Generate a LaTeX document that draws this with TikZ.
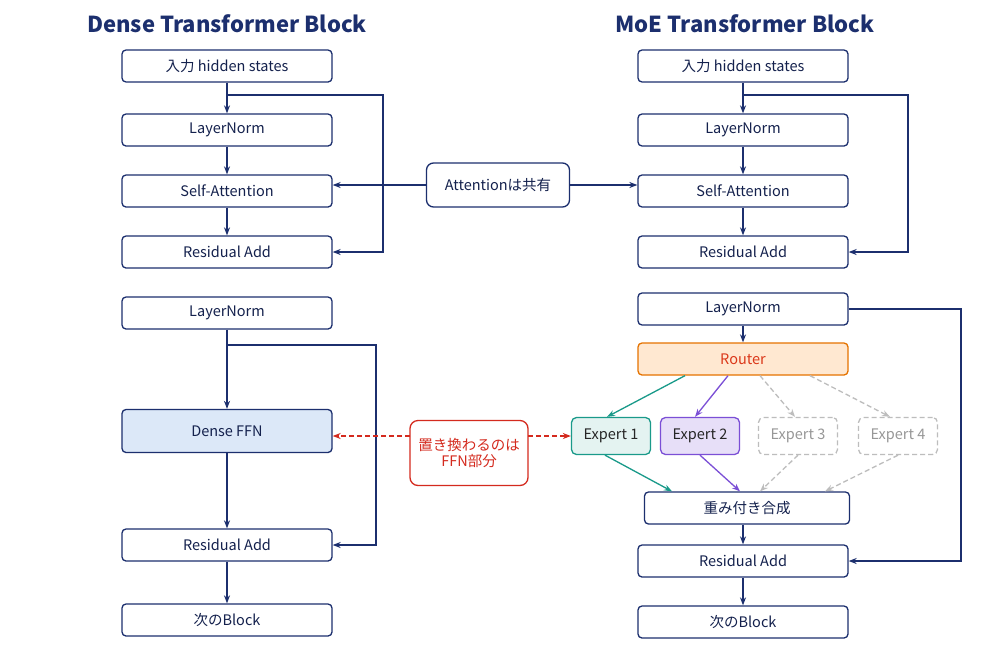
\documentclass[tikz,border=0pt]{standalone}
\usepackage{fontspec}
\setmainfont{Noto Sans CJK JP}
\usetikzlibrary{arrows.meta}
\definecolor{navy}{HTML}{1C2F6E}
\definecolor{teal2}{HTML}{1A9A8A}
\definecolor{purp}{HTML}{7B4FD6}
\definecolor{gry}{HTML}{BDBDBD}
\definecolor{redd}{HTML}{D42A1E}
\definecolor{lblue}{HTML}{DCE8F8}
\begin{document}
\begin{tikzpicture}[x=1pt,y=-1pt,
 box/.style={draw=navy,line width=1.3pt,rounded corners=4pt,fill=white,minimum height=32pt,font=\fontsize{14.5}{16}\selectfont,text=navy!70!black,inner sep=0pt},
 col/.style={box,minimum width=210pt},
 exp/.style={box,rounded corners=5pt,minimum width=79pt,minimum height=37pt,text=black!85},
 ar/.style={-{Stealth[length=8pt,width=6pt]},line width=1.3pt,draw=navy},
 gd/.style={-{Stealth[length=8pt,width=6pt]},line width=1.3pt,draw=gry,dash pattern=on 5pt off 3pt}]
\useasboundingbox (0,0) rectangle (1000,667);
\fill[white] (0,0) rectangle (1000,667);
\node[font=\fontsize{22}{24}\selectfont\bfseries,text=navy] (t1) at (227,24) {Dense Transformer Block};
\node[font=\fontsize{22}{24}\selectfont\bfseries,text=navy] (t2) at (745,24) {MoE Transformer Block};
% left
\node[col] (a1) at (227,66) {入力 hidden states};
\node[col] (a2) at (227,130) {LayerNorm};
\node[col] (a3) at (227,191) {Self-Attention};
\node[col] (a4) at (227,252) {Residual Add};
\node[col] (a5) at (227,313) {LayerNorm};
\node[col,fill=lblue,minimum height=43pt] (a6) at (227,431) {Dense FFN};
\node[col] (a7) at (227,545) {Residual Add};
\node[col] (a8) at (227,620) {次のBlock};
\foreach \p/\q in {a1/a2,a2/a3,a3/a4,a5/a6,a6/a7,a7/a8} \draw[ar] (\p) -- (\q);
\coordinate (s1) at (227,95); \coordinate (s2) at (227,345);
\draw[ar] (s1) -| (383,252) -- (a4.east);
\draw[ar] (s2) -| (376,545) -- (a7.east);
% right
\node[col] (b1) at (743,66) {入力 hidden states};
\node[col] (b2) at (743,130) {LayerNorm};
\node[col] (b3) at (743,191) {Self-Attention};
\node[col] (b4) at (743,252) {Residual Add};
\node[col] (b5) at (743,309) {LayerNorm};
\node[col,draw=orange!90!black,fill=orange!18,text=redd!85!orange] (r) at (743,359) {Router};
\node[exp,draw=teal2,fill=teal2!12] (e1) at (611,436) {Expert 1};
\node[exp,draw=purp,fill=purp!18] (e2) at (700,436) {Expert 2};
\node[exp,draw=gry,text=gry!80!black,dash pattern=on 5pt off 3pt] (e3) at (798,436) {Expert 3};
\node[exp,draw=gry,text=gry!80!black,dash pattern=on 5pt off 3pt] (e4) at (898,436) {Expert 4};
\node[col,minimum width=205pt] (w) at (747,508) {重み付き合成};
\node[col] (b7) at (743,561) {Residual Add};
\node[col] (b8) at (743,622) {次のBlock};
\foreach \p/\q in {b1/b2,b2/b3,b3/b4,b5/r,b7/b8} \draw[ar] (\p) -- (\q);
\draw[ar] (w.south -| b7.north) -- (b7.north);
\coordinate (s3) at (743,95);
\draw[ar] (s3) -| (908,252) -- (b4.east);
\draw[ar] (b5.east) -| (961,561) -- (b7.east);
\draw[ar,draw=teal2] (r.south -| 685,0) -- (e1.north -| 607,0);
\draw[ar,draw=purp] (r.south -| 728,0) -- (e2.north -| 695,0);
\draw[gd] (r.south -| 760,0) -- (e3.north -| 795,0);
\draw[gd] (r.south -| 810,0) -- (e4.north -| 890,0);
\draw[ar,draw=teal2] (e1.south -| 605,0) -- (w.north -| 672,0);
\draw[ar,draw=purp] (e2.south) -- (w.north -| 740,0);
\draw[gd] (e3.south) -- (w.north -| 760,0);
\draw[gd] (e4.south) -- (w.north -| 825,0);
% middle
\node[box,rounded corners=7pt,minimum width=143pt,minimum height=44pt] (att) at (498,185) {Attentionは共有};
\draw[ar] (att.west) -- (a3.east |- att.west);
\draw[ar] (att.east) -- (b3.west |- att.east);
\node[box,draw=redd,text=redd,rounded corners=8pt,minimum width=118pt,minimum height=65pt,align=center] (ffn) at (469,453) {置き換わるのは\\FFN部分};
\coordinate (fl) at (410,436); \coordinate (fr) at (528,436);
\draw[ar,draw=redd,dash pattern=on 5pt off 3pt] (fl) -- (a6.east |- fl);
\draw[ar,draw=redd,dash pattern=on 5pt off 3pt] (fr) -- (e1.west);
\end{tikzpicture}
\end{document}
